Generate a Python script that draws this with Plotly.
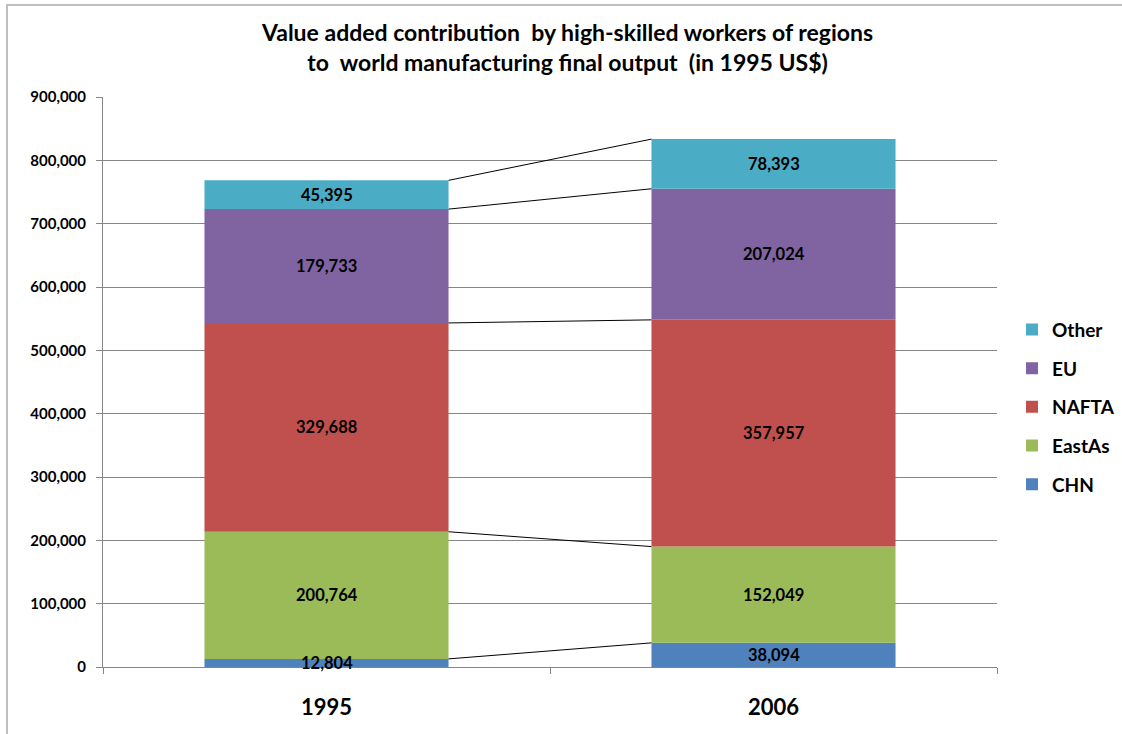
import plotly.graph_objects as go
import numpy as np

years = ["1995", "2006"]
series = ["CHN", "EastAs", "NAFTA", "EU", "Other"]
CHN = [12804, 38094]
EastAs = [200764, 152049]
NAFTA = [329688, 357957]
EU = [179733, 207024]
Other = [45395, 78393]
colors = ["#4F81BD", "#9BBB59", "#C0504D", "#8064A2", "#4BACC6"]

values = [CHN, EastAs, NAFTA, EU, Other]
xpos = [0, 1]
bar_w = 0.546
FONT = "Lato"

fig = go.Figure()
cum = np.zeros(2)
annos = []
tops = []
for k, (name, vals, col) in enumerate(zip(series, values, colors)):
    vals = np.array(vals, dtype=float)
    fig.add_trace(go.Bar(
        x=xpos, y=vals, base=cum.copy(), name=name, width=bar_w,
        marker=dict(color=col, line=dict(width=0)),
        legendgroup=name, legendrank=100 - k, hoverinfo="name+y"))
    for i in range(2):
        annos.append(dict(x=xpos[i], y=cum[i] + vals[i] / 2, text=f"{int(vals[i]):,}",
                          showarrow=False, xref="x", yref="y",
                          font=dict(family=FONT, size=16.5, color="black", weight="bold")))
    cum = cum + vals
    tops.append(cum.copy())

# connector lines between stacked segment tops
for t in tops:
    fig.add_trace(go.Scatter(
        x=[xpos[0] + bar_w / 2, xpos[1] - bar_w / 2], y=list(t), mode="lines",
        line=dict(color="black", width=1), showlegend=False, hoverinfo="skip"))

title_text = ("Value added contribution  by high-skilled workers of regions<br>"
              "to  world manufacturing final output  (in 1995 US$)")
annos.append(dict(x=0.519, y=1.0877, xref="paper", yref="paper", text=title_text,
                  showarrow=False, xanchor="center", yanchor="middle",
                  font=dict(family=FONT, size=23, color="black", weight="bold")))

fig.update_layout(
    width=1122, height=734,
    margin=dict(l=103, r=125, t=97, b=67, autoexpand=False),
    paper_bgcolor="white", plot_bgcolor="white",
    barmode="overlay",
    showlegend=True,
    legend=dict(x=1.0168, y=0.456, xanchor="left", yanchor="middle",
                traceorder="grouped", tracegroupgap=11,
                font=dict(family=FONT, size=19, color="black", weight="bold"),
                itemwidth=30),
    annotations=annos,
    xaxis=dict(range=[-0.5, 1.5], tickmode="array", tickvals=xpos, ticktext=years,
               ticks="", showgrid=False, zeroline=False,
               showline=True, linecolor="#868686", linewidth=1,
               ticklabelstandoff=21,
               tickfont=dict(family=FONT, size=22, color="black", weight="bold"),
               minor=dict(tickmode="linear", tick0=-0.5, dtick=1, ticks="outside",
                          ticklen=6, tickcolor="#868686", showgrid=False)),
    yaxis=dict(range=[0, 900000], tickmode="linear", tick0=0, dtick=100000,
               tickformat=",", showgrid=True, gridcolor="#868686", gridwidth=1,
               zeroline=False, showline=True, linecolor="#868686", linewidth=1,
               ticks="outside", ticklen=6, tickcolor="#868686",
               ticklabelstandoff=7,
               tickfont=dict(family=FONT, size=15, color="black", weight="bold")),
    font=dict(family=FONT),
    shapes=[dict(type="rect", xref="paper", yref="paper",
                 x0=(7 - 103) / 894, x1=(1400 - 103) / 894,
                 y0=(667 - 900) / 570, y1=(667 - 5) / 570,
                 line=dict(color="#BFBFBF", width=2), fillcolor="rgba(0,0,0,0)",
                 layer="below")],
)

fig.write_html("out.html", config={"displayModeBar": False},
               post_script="document.body.style.margin='0';document.body.style.overflow='hidden';")
